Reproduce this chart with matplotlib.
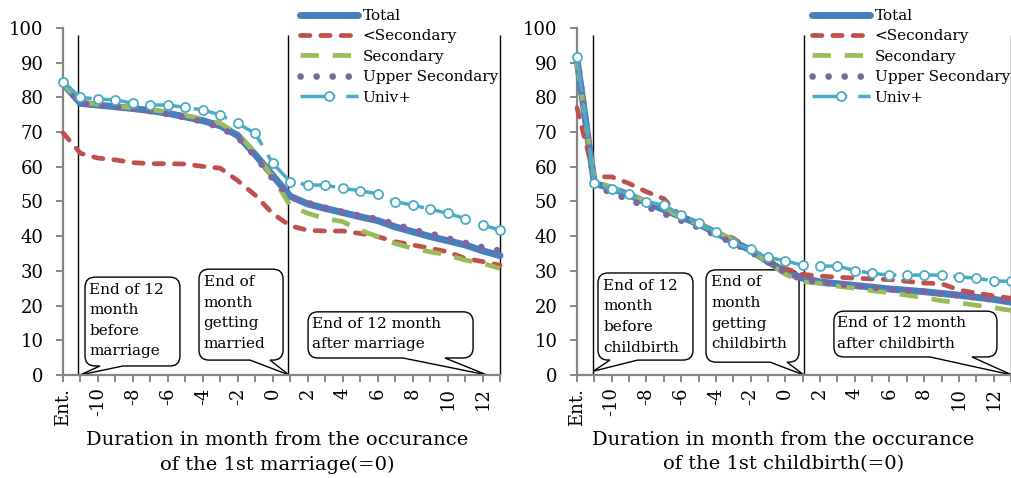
import matplotlib
matplotlib.use("Agg")
import matplotlib.pyplot as plt
from matplotlib.path import Path
from matplotlib.patches import PathPatch
from matplotlib.transforms import IdentityTransform

plt.rcParams['font.family'] = ['DejaVu Serif']

# ---------------- data ----------------
categories = ["Ent.", "-11", "-10", "-9", "-8", "-7", "-6", "-5", "-4", "-3", "-2", "-1",
              "0", "1", "2", "3", "4", "5", "6", "7", "8", "9", "10", "11", "12", "13"]

series_names = ["Total", "<Secondary", "Secondary", "Upper Secondary", "Univ+"]

# marriage panel
total_m = [84, 78.3, 77.8, 77.3, 76.8, 76.2, 75.4, 74.4, 73.3, 71.8, 69.0, 63.5, 57.5,
           51.5, 49.3, 48.0, 46.8, 45.6, 44.5, 42.7, 41.3, 39.9, 38.7, 37.5, 35.8, 34.4]
lowsec_m = [69.8, 63.9, 62.5, 62.0, 61.2, 60.9, 60.9, 60.8, 60.1, 59.6, 56.0, 51.8, 46.5,
            43.0, 41.7, 41.5, 41.5, 40.8, 39.9, 38.4, 37.5, 36.5, 35.5, 33.6, 32.7, 31.6]
sec_m = [84, 78.6, 78.0, 77.5, 77.0, 76.5, 75.8, 74.8, 73.8, 72.5, 69.5, 64.0, 57.0,
         48.8, 46.6, 45.1, 44.2, 41.7, 39.9, 37.9, 36.5, 35.5, 34.6, 33.1, 32.2, 30.7]
uppsec_m = [84, 78.3, 77.8, 77.3, 76.8, 76.0, 75.2, 74.2, 73.0, 71.3, 68.5, 63.0, 56.5,
            51.3, 49.6, 48.2, 47.0, 45.9, 44.9, 43.5, 41.8, 40.8, 39.4, 38.1, 36.8, 35.8]
univ_m = [84.5, 80.0, 79.5, 79.3, 78.3, 77.8, 77.8, 77.1, 76.4, 74.9, 72.5, 69.6, 61.0,
          55.7, 54.8, 54.7, 53.8, 53.1, 52.2, 49.9, 49.0, 47.8, 46.6, 45.1, 43.2, 41.8]

# childbirth panel
total_c = [91, 55.2, 53.8, 51.9, 49.7, 47.7, 45.6, 43.5, 41.0, 38.4, 36.0, 32.7, 29.8,
           27.9, 26.8, 26.3, 25.8, 25.3, 24.8, 24.4, 24.0, 23.5, 23.0, 22.4, 21.8, 21.0]
lowsec_c = [77, 57.1, 57.1, 55.2, 52.8, 50.8, 45.6, 43.2, 41.3, 39.4, 36.0, 33.1, 30.7,
            29.0, 28.5, 28.2, 27.9, 27.7, 27.5, 27.0, 26.5, 26.3, 24.5, 23.6, 22.8, 22.1]
sec_c = [90, 56.0, 54.0, 52.0, 50.0, 48.0, 45.5, 43.5, 41.5, 39.0, 36.0, 32.5, 29.0,
         26.9, 26.4, 25.6, 25.0, 24.3, 23.7, 23.0, 22.3, 21.4, 20.8, 20.1, 19.4, 18.6]
uppsec_c = [92, 54.5, 52.5, 50.5, 48.5, 46.5, 44.5, 42.5, 40.3, 38.0, 35.5, 32.5, 29.5,
            27.5, 26.6, 26.2, 25.7, 25.2, 24.7, 24.4, 24.0, 23.4, 22.9, 22.3, 21.7, 21.2]
univ_c = [91.5, 55.2, 53.5, 52.2, 49.9, 49.0, 46.1, 43.7, 41.3, 38.1, 36.2, 33.9, 32.9,
          31.6, 31.4, 31.4, 30.1, 29.3, 28.8, 28.8, 28.8, 28.8, 28.3, 27.9, 27.1, 27.0]

xlabel_m = "Duration in month from the occurance\nof the 1st marriage(=0)"
xlabel_c = "Duration in month from the occurance\nof the 1st childbirth(=0)"

callouts_m = ["End of 12\nmonth\nbefore\nmarriage", "End of\nmonth\ngetting\nmarried",
              "End of 12 month\nafter marriage"]
callouts_c = ["End of 12\nmonth\nbefore\nchildbirth", "End of\nmonth\ngetting\nchildbirth",
              "End of 12 month\nafter childbirth"]

# ---------------- styles ----------------
C_TOTAL = "#4a7ebb"
C_RED = "#c0504d"
C_GREEN = "#9bbb59"
C_PURPLE = "#8064a2"
C_CYAN = "#4bacc6"
SPINE = "#868686"
FS_TICK = 13
FS_LAB = 14
FS_BOX = 11
FS_LEG = 11

W, H = 1012, 478
fig = plt.figure(figsize=(W / 100, H / 100), dpi=100)

axL = fig.add_axes([63 / W, 103 / H, 437 / W, 347 / H])
axR = fig.add_axes([577 / W, 103 / H, 434 / W, 347 / H])

x = list(range(len(categories)))


def draw_series(ax, tot, low, sec, upp, uni):
    lines = []
    l, = ax.plot(x, tot, color=C_TOTAL, lw=5.0, solid_capstyle='round', zorder=3,
                 clip_on=False)
    lines.append(l)
    l, = ax.plot(x, low, color=C_RED, lw=3.4, linestyle=(0, (2.0, 2.3)),
                 dash_capstyle='round', zorder=4, clip_on=False)
    lines.append(l)
    l, = ax.plot(x, sec, color=C_GREEN, lw=3.4, linestyle=(0, (3.9, 2.9)),
                 dash_capstyle='butt', zorder=5, clip_on=False)
    lines.append(l)
    l, = ax.plot(x, upp, color=C_PURPLE, lw=4.8, linestyle=(0, (0.01, 2.4)),
                 dash_capstyle='round', zorder=6, clip_on=False)
    lines.append(l)
    l, = ax.plot(x, uni, color=C_CYAN, lw=2.5, linestyle=(0, (10, 3.2)),
                 marker='o', markersize=6.5, markerfacecolor='white',
                 markeredgecolor=C_CYAN, markeredgewidth=1.3, zorder=7, clip_on=False)
    lines.append(l)
    return lines


def style_axes(ax, xlabel, xlab_pos):
    ax.set_xlim(0, len(categories) - 1)
    ax.set_ylim(0, 100)
    for s in ("top", "right"):
        ax.spines[s].set_visible(False)
    for s in ("left", "bottom"):
        ax.spines[s].set_color(SPINE)
        ax.spines[s].set_linewidth(1.6)
    ax.set_yticks(range(0, 101, 10))
    ax.set_yticklabels([str(v) for v in range(0, 101, 10)], fontsize=FS_TICK)
    ax.set_xticks(x)
    ax.set_xticklabels([c if i % 2 == 0 else "" for i, c in enumerate(categories)],
                       rotation=90, fontsize=FS_TICK)
    ax.tick_params(axis='both', color=SPINE, width=1.4, length=5, direction='out')
    ax.tick_params(axis='y', pad=9)
    ax.tick_params(axis='x', pad=4)
    ax.text(xlab_pos, -0.162, xlabel, transform=ax.transAxes, ha='center', va='top',
            fontsize=FS_LAB, multialignment='center', linespacing=1.45)
    ax.patch.set_alpha(0)


def callout(ax, box, base, tip, text, text_xy):
    T = ax.transData
    x0, y0, x1, y1 = box
    X0, Y0 = T.transform((x0, y0))
    X1, Y1 = T.transform((x1, y1))
    XA = T.transform((base[0], y0))[0]
    XB = T.transform((base[1], y0))[0]
    XT, YT = T.transform(tip)
    r = 10.0
    verts = [(X0 + r, Y0), (XA, Y0), (XT, YT), (XB, Y0), (X1 - r, Y0),
             (X1, Y0), (X1, Y0 + r),
             (X1, Y1 - r),
             (X1, Y1), (X1 - r, Y1),
             (X0 + r, Y1),
             (X0, Y1), (X0, Y1 - r),
             (X0, Y0 + r),
             (X0, Y0), (X0 + r, Y0),
             (X0 + r, Y0)]
    codes = [Path.MOVETO, Path.LINETO, Path.LINETO, Path.LINETO, Path.LINETO,
             Path.CURVE3, Path.CURVE3,
             Path.LINETO,
             Path.CURVE3, Path.CURVE3,
             Path.LINETO,
             Path.CURVE3, Path.CURVE3,
             Path.LINETO,
             Path.CURVE3, Path.CURVE3,
             Path.CLOSEPOLY]
    patch = PathPatch(Path(verts, codes), transform=IdentityTransform(),
                      facecolor='white', edgecolor='black', lw=1.0, zorder=1.5,
                      clip_on=False)
    ax.add_artist(patch)
    ax.text(text_xy[0], text_xy[1], text, ha='left', va='top', fontsize=FS_BOX,
            linespacing=1.6, zorder=1.6)


style_axes(axL, xlabel_m, 0.49)
style_axes(axR, xlabel_c, 0.475)

linesL = draw_series(axL, total_m, lowsec_m, sec_m, uppsec_m, univ_m)
linesR = draw_series(axR, total_c, lowsec_c, sec_c, uppsec_c, univ_c)

# vertical marker lines
for ax, xs in ((axL, (0.86, 12.9, 25.0)), (axR, (0.94, 13.05, 25.0))):
    ax.vlines(xs, 0, 98, colors='black', lw=1.0, zorder=2.5, clip_on=False)

# callouts (marriage)
callout(axL, (1.26, 2.6, 6.69, 28.2), (2.12, 3.43), (0.97, 0), callouts_m[0], (1.5, 26.6))
callout(axL, (7.78, 4.3, 12.59, 30.5), (10.7, 11.84), (12.93, 0), callouts_m[1], (8.05, 28.8))
callout(axL, (14.02, 4.9, 23.46, 18.2), (19.45, 21.85), (24.26, 0), callouts_m[2], (14.25, 16.8))
# callouts (childbirth)
callout(axR, (1.21, 4.3, 6.68, 29.4), (1.9, 3.5), (0.94, 1.1), callouts_c[0], (1.52, 27.7))
callout(axR, (7.43, 3.7, 12.79, 30.3), (11.12, 12.1), (13.07, 0), callouts_c[1], (7.72, 28.7))
callout(axR, (14.8, 5.2, 24.19, 18.4), (20.33, 22.75), (25.06, 0), callouts_c[2], (14.95, 17.0))

# legends
for ax, lines, xpx in ((axL, linesL, 300), (axR, linesR, 812)):
    ax.legend(lines, series_names, loc='upper left',
              bbox_to_anchor=(xpx / W, 1 - 9 / H), bbox_transform=fig.transFigure,
              frameon=False, borderpad=0, borderaxespad=0, handlelength=3.8,
              handletextpad=0.3, labelspacing=0.42, fontsize=FS_LEG)

fig.savefig("out.png", dpi=100)
